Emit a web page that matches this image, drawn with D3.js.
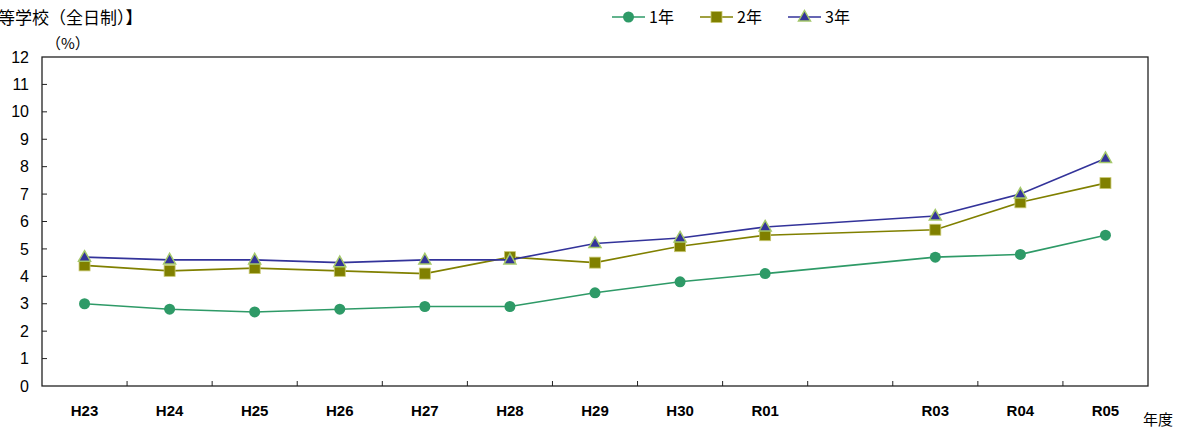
<!DOCTYPE html>
<html>
<head>
<meta charset="utf-8">
<script src="https://cdn.jsdelivr.net/npm/d3@7"></script>
<style>
  body { margin: 0; background: #fff; }
  text { font-family: "Liberation Sans", Arial, "Noto Sans CJK JP", sans-serif; fill: #000; }
  .jp { font-family: "Noto Sans CJK JP", sans-serif; }
</style>
</head>
<body>
<div id="chart"></div>
<script>
// categories (R02 has no data)
var years = ["H23", "H24", "H25", "H26", "H27", "H28", "H29", "H30", "R01", "R02", "R03", "R04", "R05"];
var yearLabels = ["H23", "H24", "H25", "H26", "H27", "H28", "H29", "H30", "R01", "", "R03", "R04", "R05"];
var grade1 = [3.0, 2.8, 2.7, 2.8, 2.9, 2.9, 3.4, 3.8, 4.1, null, 4.7, 4.8, 5.5];
var grade2 = [4.4, 4.2, 4.3, 4.2, 4.1, 4.7, 4.5, 5.1, 5.5, null, 5.7, 6.7, 7.4];
var grade3 = [4.7, 4.6, 4.6, 4.5, 4.6, 4.6, 5.2, 5.4, 5.8, null, 6.2, 7.0, 8.3];
var yTicks = [0, 1, 2, 3, 4, 5, 6, 7, 8, 9, 10, 11, 12];
var seriesNames = ["1年", "2年", "3年"];

var svgWidth = 1181, svgHeight = 429;
var margin = {top: 57, right: 33, bottom: 43, left: 42};
var width = svgWidth - margin.left - margin.right;
var height = svgHeight - margin.top - margin.bottom;

var svg = d3.select("#chart").append("svg")
  .attr("width", svgWidth)
  .attr("height", svgHeight);

var chartGroup = svg.append("g")
  .attr("transform", `translate(${margin.left}, ${margin.top})`);

var xScale = d3.scaleBand().domain(years).range([0, width]);
var yScale = d3.scaleLinear().domain([0, 12]).range([height, 0]);

// frame
chartGroup.append("rect")
  .attr("width", width).attr("height", height)
  .attr("fill", "none").attr("stroke", "#222").attr("stroke-width", 1.3);

// y axis: ticks inside
var leftAxis = d3.axisLeft(yScale).tickValues(yTicks).tickSize(0).tickPadding(13);
var yg = chartGroup.append("g").call(leftAxis);
yg.select(".domain").remove();
yg.selectAll("text").style("font-size", "16px").attr("fill", "#000")
  .attr("font-family", "Liberation Sans, Arial, sans-serif");
chartGroup.selectAll(".ytick").data(yTicks.slice(1, -1)).enter().append("line")
  .attr("x1", 0).attr("x2", 5)
  .attr("y1", d => yScale(d)).attr("y2", d => yScale(d))
  .attr("stroke", "#222");

// x axis: tick marks between categories, pointing up
var xg = chartGroup.append("g").attr("transform", `translate(0, ${height})`);
xg.selectAll("line").data(years.slice(1)).enter().append("line")
  .attr("x1", d => xScale(d)).attr("x2", d => xScale(d))
  .attr("y1", 0).attr("y2", -5)
  .attr("stroke", "#222");
xg.selectAll("text").data(years).enter().append("text")
  .attr("x", d => xScale(d) + xScale.bandwidth() / 2)
  .attr("y", 30)
  .attr("text-anchor", "middle")
  .style("font-size", "15px").style("font-weight", "bold")
  .text((d, i) => yearLabels[i]);

// titles
svg.append("text").attr("class", "jp").attr("x", -2).attr("y", 24)
  .style("font-size", "17px").text("等学校（全日制）】");
svg.append("text").attr("class", "jp").attr("x", 46).attr("y", 49)
  .style("font-size", "15px").text("（%）");
svg.append("text").attr("class", "jp").attr("x", 1143).attr("y", 425)
  .style("font-size", "15px").text("年度");

var colors = ["#2e9a67", "#808000", "#33339a"];
var allSeries = [grade1, grade2, grade3];

var line = d3.line()
  .defined(d => d.v !== null)
  .x(d => xScale(d.k) + xScale.bandwidth() / 2)
  .y(d => yScale(d.v));

function drawMarker(g, type, color) {
  if (type === 0) {
    g.append("circle").attr("r", 5.5).attr("fill", color);
  } else if (type === 1) {
    g.append("rect").attr("x", -5.5).attr("y", -5.5).attr("width", 11).attr("height", 11)
      .attr("fill", color).attr("stroke", "#c8c870").attr("stroke-width", 0.8);
  } else {
    g.append("path").attr("d", "M0,-6.5L6,4L-6,4Z")
      .attr("fill", color).attr("stroke", "#a4c86a").attr("stroke-width", 1.5);
  }
}

allSeries.forEach(function(vals, si) {
  var pts = years.map((k, i) => ({k: k, v: vals[i]})).filter(d => d.v !== null);
  chartGroup.append("path")
    .datum(pts)
    .attr("fill", "none")
    .attr("stroke", colors[si])
    .attr("stroke-width", 1.6)
    .attr("d", line);
  chartGroup.selectAll(".m" + si).data(pts).enter().append("g")
    .attr("transform", d => `translate(${xScale(d.k) + xScale.bandwidth() / 2}, ${yScale(d.v)})`)
    .each(function() { drawMarker(d3.select(this), si, colors[si]); });
});

// legend
var legendX = [612, 700, 788];
seriesNames.forEach(function(name, si) {
  var lg = svg.append("g").attr("transform", `translate(${legendX[si]}, 17)`);
  lg.append("line").attr("x1", 0).attr("x2", 33).attr("y1", 0).attr("y2", 0)
    .attr("stroke", colors[si]).attr("stroke-width", 1.6);
  var mg = lg.append("g").attr("transform", "translate(16.5, 0)");
  drawMarker(mg, si, colors[si]);
  lg.append("text").attr("class", "jp").attr("x", 37).attr("y", 6)
    .style("font-size", "16px").text(name);
});
</script>
</body>
</html>
